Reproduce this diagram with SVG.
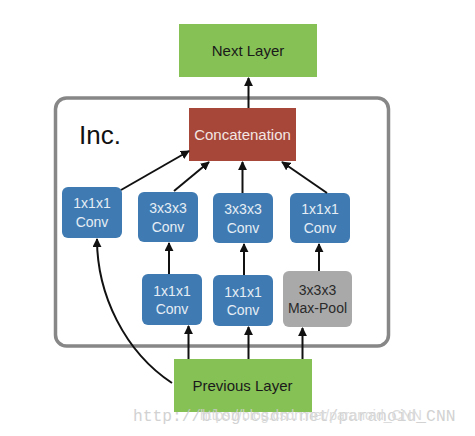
<svg xmlns="http://www.w3.org/2000/svg" width="475" height="436" viewBox="0 0 475 436">
  <defs>
    <marker id="arr" viewBox="0 0 10 10" refX="9" refY="5" markerWidth="9" markerHeight="9" markerUnits="userSpaceOnUse" orient="auto">
      <path d="M0,0 L10,5 L0,10 z" fill="#111"/>
    </marker>
  </defs>
  <style>
    .lbl { font-family: "Liberation Sans", Arial, sans-serif; font-size: 15px; text-anchor: middle; }
    .conv rect { fill: #3f7bb2; }
    .conv text { font-family: "Liberation Sans", Arial, sans-serif; font-size: 14px; text-anchor: middle; fill: #e6edf5; }
    .pool rect { fill: #a9a9a9; }
    .pool text { font-family: "Liberation Sans", Arial, sans-serif; font-size: 14px; text-anchor: middle; fill: #2a2a2a; }
    .green { fill: #86c156; }
    .edge { fill: none; stroke: #111; stroke-width: 2; marker-end: url(#arr); }
  </style>
  <rect width="475" height="436" fill="#fff"/>

  <g id="inception-block">
    <rect x="55.5" y="98" width="333" height="248" rx="11" fill="#fff" stroke="#878787" stroke-width="3.5"/>
    <text x="79" y="144" font-family="'Liberation Sans', Arial, sans-serif" font-size="26" fill="#111">Inc.</text>
  </g>

  <g id="next-layer">
    <rect class="green" x="179" y="24" width="138" height="53"/>
    <text class="lbl" x="248" y="56" fill="#1a1a1a">Next Layer</text>
  </g>

  <g id="concatenation">
    <rect x="189" y="108" width="107" height="53" fill="#a6473a"/>
    <text class="lbl" x="242.5" y="140" fill="#f3e6e3">Concatenation</text>
  </g>

  <g id="conv1-left" class="conv">
    <rect x="62" y="187" width="60" height="51" rx="6"/>
    <text x="92" y="208">1x1x1</text>
    <text x="92" y="227">Conv</text>
  </g>

  <g id="conv3-a" class="conv">
    <rect x="138" y="192" width="60" height="50" rx="6"/>
    <text x="168" y="213">3x3x3</text>
    <text x="168" y="232">Conv</text>
  </g>

  <g id="conv3-b" class="conv">
    <rect x="213" y="193" width="60" height="50" rx="6"/>
    <text x="243" y="214">3x3x3</text>
    <text x="243" y="233">Conv</text>
  </g>

  <g id="conv1-right" class="conv">
    <rect x="290" y="193" width="60" height="50" rx="6"/>
    <text x="320" y="214">1x1x1</text>
    <text x="320" y="233">Conv</text>
  </g>

  <g id="conv1-a" class="conv">
    <rect x="142" y="274" width="60" height="51" rx="6"/>
    <text x="172" y="296">1x1x1</text>
    <text x="172" y="314">Conv</text>
  </g>

  <g id="conv1-b" class="conv">
    <rect x="213" y="275" width="60" height="51" rx="6"/>
    <text x="243" y="297">1x1x1</text>
    <text x="243" y="315">Conv</text>
  </g>

  <g id="maxpool" class="pool">
    <rect x="283" y="271" width="69" height="56" rx="6"/>
    <text x="317.5" y="295">3x3x3</text>
    <text x="317.5" y="313">Max-Pool</text>
  </g>

  <g id="previous-layer">
    <rect class="green" x="174" y="359" width="138" height="53"/>
    <text class="lbl" x="242.5" y="391" fill="#1a1a1a">Previous Layer</text>
  </g>

  <g id="connectors">
    <line class="edge" x1="248.5" y1="108" x2="248.5" y2="78"/>
    <line class="edge" x1="121" y1="190" x2="189" y2="151"/>
    <line class="edge" x1="174" y1="191" x2="209" y2="162"/>
    <line class="edge" x1="242.5" y1="193" x2="242.5" y2="162"/>
    <line class="edge" x1="327" y1="193" x2="282" y2="162"/>
    <line class="edge" x1="169" y1="274" x2="169" y2="243"/>
    <line class="edge" x1="244" y1="275" x2="244" y2="244"/>
    <line class="edge" x1="319" y1="271" x2="319" y2="244"/>
    <line class="edge" x1="188.5" y1="359" x2="188.5" y2="326"/>
    <line class="edge" x1="248.5" y1="359" x2="248.5" y2="327"/>
    <line class="edge" x1="302.5" y1="359" x2="302.5" y2="328"/>
    <path class="edge" d="M172,383 C125,352 97,295 97,239"/>
  </g>

  <g id="watermark" fill="#c8c8c8" opacity="0.8">
    <text x="133" y="421" font-family="'Liberation Mono', 'Courier New', monospace" font-size="16.3">http://blog.csdn.net/paranoid_CNN</text>
    <text x="200" y="420" font-family="'Liberation Sans', Arial, sans-serif" font-size="14" fill="#d4d4d4">https://blog.csdn.net/paranoid_CNN</text>
  </g>
</svg>
